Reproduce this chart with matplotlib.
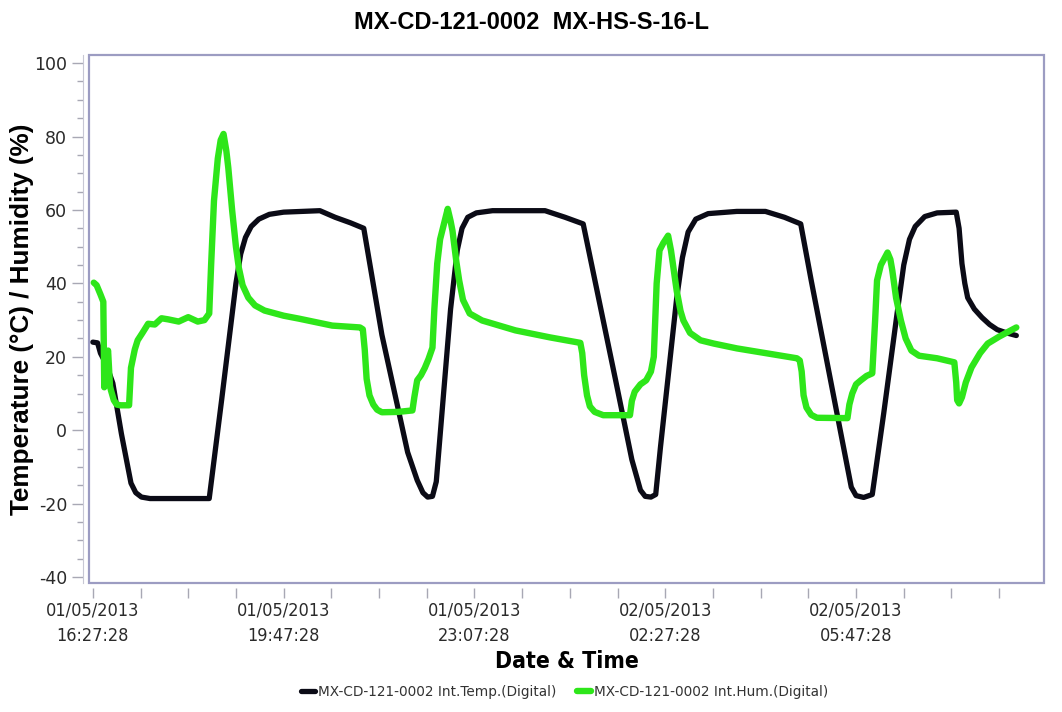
import matplotlib
matplotlib.use("Agg")
import matplotlib.pyplot as plt
from matplotlib import font_manager
from matplotlib.patches import Rectangle
from matplotlib.ticker import MultipleLocator, FixedLocator

plt.rcParams["axes.unicode_minus"] = False

# elapsed minutes since 01/05/2013 16:27:28
temp_t = [0, 5, 8, 14, 21, 30, 40, 45, 51, 60, 122, 135, 150, 155, 160, 166, 174,
          185, 200, 238, 254, 270, 284, 303, 330, 340, 346, 351, 356, 360, 375,
          382, 387, 393, 402, 419, 474, 495, 514, 548, 565, 574, 579, 585, 590,
          595, 612, 618, 624, 632, 645, 675, 705, 725, 742, 753, 780, 795, 800,
          808, 817, 829, 843, 850, 856, 862, 872, 885, 905, 908, 911, 914, 917,
          924, 932, 940, 948, 958, 968]
temp_v = [24, 23.8, 21, 18, 12.8, -1, -14.4, -17, -18.2, -18.6, -18.6, 8.2, 40, 48,
          52.5, 55.5, 57.5, 58.8, 59.4, 59.8, 58, 56.5, 55, 26, -6, -13.6, -17,
          -18.2, -18, -14, 33, 49, 55, 58, 59.2, 59.8, 59.8, 58, 56.2, 13.6, -8,
          -16.3, -18, -18.2, -17.5, -4.6, 36, 47, 54, 57.5, 59, 59.6, 59.6, 58,
          56.2, 40.8, 4.6, -15.5, -17.8, -18.3, -17.5, 4.6, 31.8, 45, 52, 55.5,
          58.2, 59.2, 59.4, 55, 45.4, 40, 36.1, 33, 30.7, 28.8, 27.4, 26.5, 25.8]

hum_t = [1, 4, 8, 11, 12, 14, 16, 18, 19, 22, 25, 29, 38, 40, 44, 47, 52, 58, 65,
         72, 79, 90, 100, 110, 117, 122, 124, 127, 131, 134, 137, 140, 142, 146,
         150, 153, 157, 163, 170, 180, 200, 216, 251, 280, 283, 285, 287, 290,
         294, 298, 303, 320, 335, 337, 340, 344, 348, 352, 356, 358, 361, 364,
         368, 372, 375, 377, 381, 384, 388, 395, 408, 443, 479, 511, 513, 515,
         518, 521, 526, 535, 563, 565, 568, 574, 580, 585, 588, 591, 594, 598,
         603, 606, 608, 612, 616, 619, 626, 637, 651, 675, 738, 741, 743, 745,
         748, 753, 759, 791, 793, 796, 800, 805, 811, 817, 820, 822, 826, 833,
         836, 838, 842, 847, 852, 858, 866, 885, 903, 905, 906, 908, 911, 915,
         921, 930, 938, 950, 968]
hum_v = [40.2, 39.5, 37, 35, 11.7, 20, 21.7, 12, 10.9, 8.2, 7, 6.8, 6.8, 17, 22,
         24.5, 26.5, 29, 28.8, 30.5, 30.2, 29.6, 30.8, 29.6, 30, 31.8, 45, 62.5,
         74, 79, 80.7, 76, 71.5, 60, 50, 44.3, 39.5, 36.1, 34, 32.6, 31.2, 30.4,
         28.5, 28, 27.5, 22, 14, 9.5, 7, 5.6, 4.9, 5, 5.4, 9, 13.6, 15, 17, 19.5,
         22.5, 33, 45.4, 52, 56.2, 60.3, 57, 54.3, 46, 40.8, 35.5, 31.8, 29.9,
         27.2, 25.3, 23.8, 21, 15, 9.5, 6.5, 5, 4.1, 4.1, 8, 10.5, 12.5, 13.6, 16,
         20, 40, 49, 51, 53, 49, 45.4, 38, 32.5, 29.9, 26.5, 24.5, 23.6, 22.3,
         19.6, 19, 16, 9.5, 6.2, 4.2, 3.4, 3.3, 7, 10, 12.5, 13.6, 14.8, 15.5, 30,
         40.8, 45, 48.4, 46.5, 43.5, 36, 29.9, 25, 21.7, 20.3, 19.6, 18.5, 13, 8.2,
         7.3, 9, 13, 17.1, 21, 23.6, 25.5, 28]

tick_pos = [0, 200, 400, 600, 800]
tick_labels = ["01/05/2013\n16:27:28", "01/05/2013\n19:47:28", "01/05/2013\n23:07:28",
               "02/05/2013\n02:27:28", "02/05/2013\n05:47:28"]

title = "MX-CD-121-0002  MX-HS-S-16-L"
temp_name = "MX-CD-121-0002 Int.Temp.(Digital)"
hum_name = "MX-CD-121-0002 Int.Hum.(Digital)"


def bold_font(size):
    # regular-width Liberation Sans Bold
    for f in font_manager.fontManager.ttflist:
        if f.fname.endswith("LiberationSans-Bold.ttf"):
            return font_manager.FontProperties(fname=f.fname, size=size)
    return font_manager.FontProperties(family="DejaVu Sans", weight="bold", size=size)


fig = plt.figure(figsize=(10.62, 7.12), dpi=100)
ax = fig.add_axes([89 / 1062, 1 - 583 / 712, (1044 - 89) / 1062, (583 - 55) / 712])

ax.plot(temp_t, temp_v, color="#0b0b16", lw=3.8, solid_joinstyle="round",
        solid_capstyle="round", label=temp_name)
ax.plot(hum_t, hum_v, color="#2ee61a", lw=4.6, solid_joinstyle="round",
        solid_capstyle="round", label=hum_name)

ax.set_xlim(-4, 997)
ax.set_ylim(-41.6, 102.2)

for s in ax.spines.values():
    s.set_visible(False)
ax.spines["left"].set_visible(True)
ax.spines["left"].set_position(("outward", 4.3))
ax.spines["left"].set_color("#c8c8d4")
ax.spines["bottom"].set_visible(True)
ax.spines["bottom"].set_position(("outward", 3.6))
ax.spines["bottom"].set_color("none")
ax.add_patch(Rectangle((0, 0), 1, 1, transform=ax.transAxes, fill=False,
                       edgecolor="#9c9cc2", lw=1.6, clip_on=False, zorder=5))

ax.yaxis.set_major_locator(MultipleLocator(20))
ax.yaxis.set_minor_locator(MultipleLocator(5))
ax.xaxis.set_major_locator(FixedLocator(tick_pos))
ax.xaxis.set_minor_locator(MultipleLocator(50))
ax.set_xticklabels(tick_labels, family="DejaVu Sans", stretch="condensed", fontsize=13,
                   linespacing=1.55)
ax.tick_params(axis="both", which="both", colors="#a8a8b4", labelcolor="#2a2a2a")
ax.tick_params(axis="y", which="major", length=8, width=1, labelsize=12.5, pad=3.5)
ax.tick_params(axis="y", which="minor", length=4.5, width=1)
ax.tick_params(axis="x", which="both", length=7.5, width=1, pad=2)

ax.set_ylabel("Temperature (°C) / Humidity (%)", fontproperties=bold_font(18.8))
ax.yaxis.set_label_coords(-0.058, 0.5)
ax.set_xlabel("Date & Time", fontsize=16.5, fontweight="bold", family="DejaVu Sans",
              stretch="condensed", labelpad=4)
fig.suptitle(title, x=0.5, y=0.985, fontproperties=bold_font(17))

fig.legend(loc="center", bbox_to_anchor=(0.532, 0.028), ncol=2, frameon=False,
           fontsize=9.8, handlelength=1.0, columnspacing=1.5, handletextpad=0.25,
           labelcolor="#333333")

fig.savefig("out.png", dpi=100)
